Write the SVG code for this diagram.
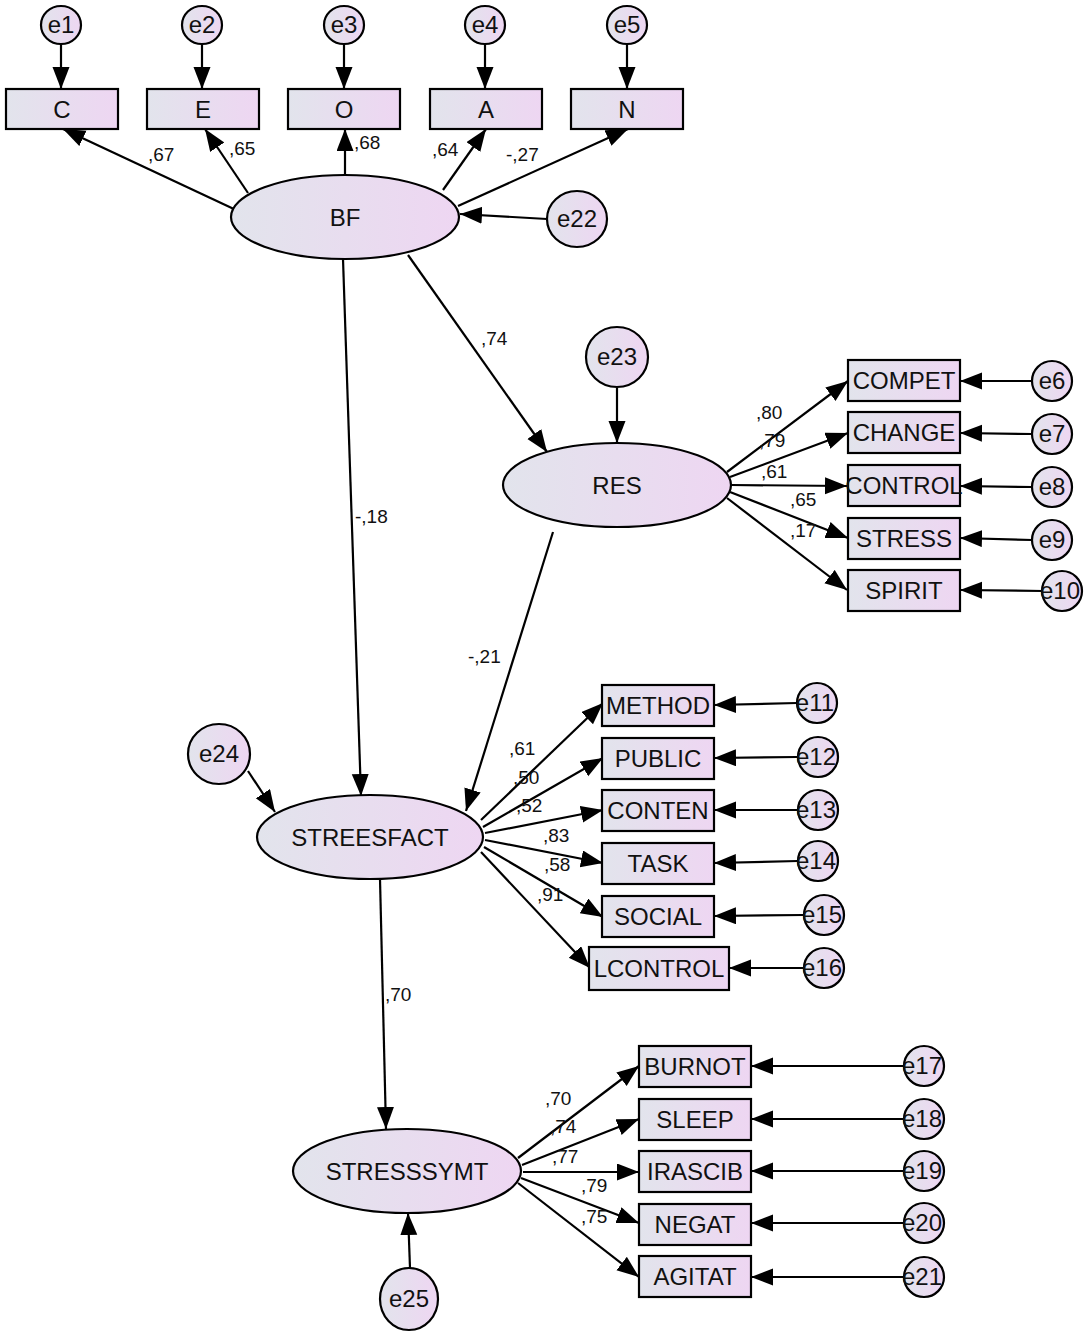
<svg xmlns="http://www.w3.org/2000/svg" width="1084" height="1334" viewBox="0 0 1084 1334">
<defs>
<linearGradient id="g" x1="0" y1="0" x2="1" y2="0">
<stop offset="0" stop-color="#e2e4ec"/>
<stop offset="1" stop-color="#eed6f2"/>
</linearGradient>
<marker id="ah" markerUnits="userSpaceOnUse" markerWidth="24" markerHeight="20" refX="22" refY="8.5" orient="auto">
<path d="M0,0 L22,8.5 L0,17 z" fill="#000"/>
</marker>
</defs>
<style>
.n{fill:url(#g);stroke:#000;stroke-width:2.2}
.t{font-family:"Liberation Sans",Arial,sans-serif;font-size:24px;fill:#111;text-anchor:middle}
.e{font-family:"Liberation Sans",Arial,sans-serif;font-size:24px;fill:#111;text-anchor:middle}
.l{font-family:"Liberation Sans",Arial,sans-serif;font-size:19px;fill:#111}
.c line{stroke:#000;stroke-width:2.2;marker-end:url(#ah)}
</style>
<rect width="1084" height="1334" fill="#fff"/>

<g class="c" id="connectors">
<line x1="61" y1="43" x2="61" y2="89"/>
<line x1="202" y1="43" x2="202" y2="89"/>
<line x1="344" y1="43" x2="344" y2="89"/>
<line x1="485" y1="43" x2="485" y2="89"/>
<line x1="627" y1="43" x2="627" y2="89"/>
<line x1="236" y1="210" x2="63" y2="129"/>
<line x1="248" y1="193" x2="205" y2="129"/>
<line x1="345" y1="175" x2="345" y2="129"/>
<line x1="443" y1="190" x2="486" y2="129"/>
<line x1="458" y1="206" x2="628" y2="129"/>
<line x1="547" y1="219" x2="460" y2="214"/>
<line x1="343" y1="259" x2="361" y2="796"/>
<line x1="408" y1="255" x2="547" y2="452"/>
<line x1="617" y1="388" x2="617" y2="443"/>
<line x1="727" y1="472" x2="848" y2="381"/>
<line x1="730" y1="477" x2="848" y2="433"/>
<line x1="731" y1="485" x2="847" y2="486"/>
<line x1="730" y1="492" x2="848" y2="538"/>
<line x1="727" y1="498" x2="847" y2="590"/>
<line x1="1031" y1="381" x2="960" y2="381"/>
<line x1="1032" y1="434" x2="960" y2="433"/>
<line x1="1032" y1="487" x2="960" y2="486"/>
<line x1="1032" y1="540" x2="960" y2="538"/>
<line x1="1043" y1="591" x2="960" y2="590"/>
<line x1="553" y1="532" x2="466" y2="811"/>
<line x1="248" y1="771" x2="275" y2="812"/>
<line x1="481" y1="820" x2="603" y2="703"/>
<line x1="483" y1="827" x2="603" y2="758"/>
<line x1="485" y1="833" x2="603" y2="810"/>
<line x1="485" y1="840" x2="603" y2="863"/>
<line x1="484" y1="847" x2="603" y2="917"/>
<line x1="481" y1="852" x2="590" y2="968"/>
<line x1="797" y1="703" x2="714" y2="705"/>
<line x1="797" y1="757" x2="714" y2="758"/>
<line x1="798" y1="810" x2="714" y2="810"/>
<line x1="798" y1="861" x2="714" y2="863"/>
<line x1="804" y1="915" x2="714" y2="916"/>
<line x1="804" y1="968" x2="729" y2="968"/>
<line x1="380" y1="879" x2="386" y2="1129"/>
<line x1="410" y1="1268" x2="408" y2="1213"/>
<line x1="518" y1="1158" x2="639" y2="1066"/>
<line x1="522" y1="1165" x2="639" y2="1119"/>
<line x1="523" y1="1172" x2="639" y2="1172"/>
<line x1="521" y1="1178" x2="639" y2="1223"/>
<line x1="518" y1="1183" x2="639" y2="1277"/>
<line x1="903" y1="1066" x2="751" y2="1066"/>
<line x1="903" y1="1119" x2="751" y2="1119"/>
<line x1="903" y1="1171" x2="751" y2="1171"/>
<line x1="903" y1="1223" x2="751" y2="1223"/>
<line x1="903" y1="1277" x2="751" y2="1277"/>
</g>

<g id="labels">
<text class="l" x="148" y="161">,67</text>
<text class="l" x="229" y="155">,65</text>
<text class="l" x="354" y="149">,68</text>
<text class="l" x="432" y="156">,64</text>
<text class="l" x="506" y="161">-,27</text>
<text class="l" x="481" y="345">,74</text>
<text class="l" x="355" y="523">-,18</text>
<text class="l" x="468" y="663">-,21</text>
<text class="l" x="756" y="419">,80</text>
<text class="l" x="759" y="447">,79</text>
<text class="l" x="761" y="478">,61</text>
<text class="l" x="790" y="506">,65</text>
<text class="l" x="790" y="537">,17</text>
<text class="l" x="509" y="755">,61</text>
<text class="l" x="513" y="784">,50</text>
<text class="l" x="516" y="812">,52</text>
<text class="l" x="543" y="842">,83</text>
<text class="l" x="544" y="871">,58</text>
<text class="l" x="537" y="901">,91</text>
<text class="l" x="385" y="1001">,70</text>
<text class="l" x="545" y="1105">,70</text>
<text class="l" x="550" y="1133">,74</text>
<text class="l" x="552" y="1163">,77</text>
<text class="l" x="581" y="1192">,79</text>
<text class="l" x="581" y="1223">,75</text>
</g>

<g id="e1"><ellipse class="n" cx="61" cy="25" rx="20" ry="19"/><text class="e" x="61" y="33">e1</text></g>
<g id="e2"><ellipse class="n" cx="202" cy="25" rx="20" ry="19"/><text class="e" x="202" y="33">e2</text></g>
<g id="e3"><ellipse class="n" cx="344" cy="25" rx="20" ry="19"/><text class="e" x="344" y="33">e3</text></g>
<g id="e4"><ellipse class="n" cx="485" cy="25" rx="20" ry="19"/><text class="e" x="485" y="33">e4</text></g>
<g id="e5"><ellipse class="n" cx="627" cy="25" rx="20" ry="19"/><text class="e" x="627" y="33">e5</text></g>

<g id="C"><rect class="n" x="6" y="89" width="112" height="40"/><text class="t" x="62" y="118">C</text></g>
<g id="E"><rect class="n" x="147" y="89" width="112" height="40"/><text class="t" x="203" y="118">E</text></g>
<g id="O"><rect class="n" x="288" y="89" width="112" height="40"/><text class="t" x="344" y="118">O</text></g>
<g id="A"><rect class="n" x="430" y="89" width="112" height="40"/><text class="t" x="486" y="118">A</text></g>
<g id="N"><rect class="n" x="571" y="89" width="112" height="40"/><text class="t" x="627" y="118">N</text></g>

<g id="BF"><ellipse class="n" cx="345" cy="217" rx="114" ry="42"/><text class="t" x="345" y="226">BF</text></g>
<g id="e22"><ellipse class="n" cx="577" cy="219" rx="30" ry="28"/><text class="e" x="577" y="227">e22</text></g>
<g id="e23"><ellipse class="n" cx="617" cy="357" rx="31" ry="30"/><text class="e" x="617" y="365">e23</text></g>

<g id="RES"><ellipse class="n" cx="617" cy="485" rx="114" ry="42"/><text class="t" x="617" y="494">RES</text></g>

<g id="COMPET"><rect class="n" x="848" y="360" width="112" height="41"/><text class="t" x="904" y="389">COMPET</text></g>
<g id="CHANGE"><rect class="n" x="848" y="412" width="112" height="41"/><text class="t" x="904" y="441">CHANGE</text></g>
<g id="CONTROL"><rect class="n" x="848" y="465" width="112" height="41"/><text class="t" x="904" y="494">CONTROL</text></g>
<g id="STRESS"><rect class="n" x="848" y="518" width="112" height="41"/><text class="t" x="904" y="547">STRESS</text></g>
<g id="SPIRIT"><rect class="n" x="848" y="570" width="112" height="41"/><text class="t" x="904" y="599">SPIRIT</text></g>

<g id="e6"><ellipse class="n" cx="1052" cy="381" rx="20" ry="20"/><text class="e" x="1052" y="389">e6</text></g>
<g id="e7"><ellipse class="n" cx="1052" cy="434" rx="20" ry="20"/><text class="e" x="1052" y="442">e7</text></g>
<g id="e8"><ellipse class="n" cx="1052" cy="487" rx="20" ry="20"/><text class="e" x="1052" y="495">e8</text></g>
<g id="e9"><ellipse class="n" cx="1052" cy="540" rx="20" ry="20"/><text class="e" x="1052" y="548">e9</text></g>
<g id="e10"><ellipse class="n" cx="1062" cy="591" rx="20" ry="20"/><text class="e" x="1060" y="599">e10</text></g>

<g id="e24"><ellipse class="n" cx="219" cy="754" rx="31" ry="30"/><text class="e" x="219" y="762">e24</text></g>

<g id="STREESFACT"><ellipse class="n" cx="370" cy="837" rx="113" ry="42"/><text class="t" x="370" y="846">STREESFACT</text></g>

<g id="METHOD"><rect class="n" x="602" y="685" width="112" height="41"/><text class="t" x="658" y="714">METHOD</text></g>
<g id="PUBLIC"><rect class="n" x="602" y="738" width="112" height="41"/><text class="t" x="658" y="767">PUBLIC</text></g>
<g id="CONTEN"><rect class="n" x="602" y="790" width="112" height="41"/><text class="t" x="658" y="819">CONTEN</text></g>
<g id="TASK"><rect class="n" x="602" y="843" width="112" height="41"/><text class="t" x="658" y="872">TASK</text></g>
<g id="SOCIAL"><rect class="n" x="602" y="896" width="112" height="41"/><text class="t" x="658" y="925">SOCIAL</text></g>
<g id="LCONTROL"><rect class="n" x="589" y="947" width="140" height="43"/><text class="t" x="659" y="977">LCONTROL</text></g>

<g id="e11"><ellipse class="n" cx="817" cy="703" rx="20" ry="20"/><text class="e" x="815" y="711">e11</text></g>
<g id="e12"><ellipse class="n" cx="818" cy="757" rx="20" ry="20"/><text class="e" x="816" y="765">e12</text></g>
<g id="e13"><ellipse class="n" cx="818" cy="810" rx="20" ry="20"/><text class="e" x="816" y="818">e13</text></g>
<g id="e14"><ellipse class="n" cx="818" cy="861" rx="20" ry="20"/><text class="e" x="816" y="869">e14</text></g>
<g id="e15"><ellipse class="n" cx="824" cy="915" rx="20" ry="20"/><text class="e" x="822" y="923">e15</text></g>
<g id="e16"><ellipse class="n" cx="824" cy="968" rx="20" ry="20"/><text class="e" x="822" y="976">e16</text></g>

<g id="STRESSSYMT"><ellipse class="n" cx="407" cy="1171" rx="114" ry="42"/><text class="t" x="407" y="1180">STRESSSYMT</text></g>
<g id="e25"><ellipse class="n" cx="409" cy="1299" rx="29" ry="31"/><text class="e" x="409" y="1307">e25</text></g>

<g id="BURNOT"><rect class="n" x="639" y="1046" width="112" height="41"/><text class="t" x="695" y="1075">BURNOT</text></g>
<g id="SLEEP"><rect class="n" x="639" y="1099" width="112" height="41"/><text class="t" x="695" y="1128">SLEEP</text></g>
<g id="IRASCIB"><rect class="n" x="639" y="1151" width="112" height="41"/><text class="t" x="695" y="1180">IRASCIB</text></g>
<g id="NEGAT"><rect class="n" x="639" y="1204" width="112" height="41"/><text class="t" x="695" y="1233">NEGAT</text></g>
<g id="AGITAT"><rect class="n" x="639" y="1256" width="112" height="41"/><text class="t" x="695" y="1285">AGITAT</text></g>

<g id="e17"><ellipse class="n" cx="924" cy="1066" rx="20" ry="20"/><text class="e" x="922" y="1074">e17</text></g>
<g id="e18"><ellipse class="n" cx="924" cy="1119" rx="20" ry="20"/><text class="e" x="922" y="1127">e18</text></g>
<g id="e19"><ellipse class="n" cx="924" cy="1171" rx="20" ry="20"/><text class="e" x="922" y="1179">e19</text></g>
<g id="e20"><ellipse class="n" cx="924" cy="1223" rx="20" ry="20"/><text class="e" x="922" y="1231">e20</text></g>
<g id="e21"><ellipse class="n" cx="924" cy="1277" rx="20" ry="20"/><text class="e" x="922" y="1285">e21</text></g>
</svg>
